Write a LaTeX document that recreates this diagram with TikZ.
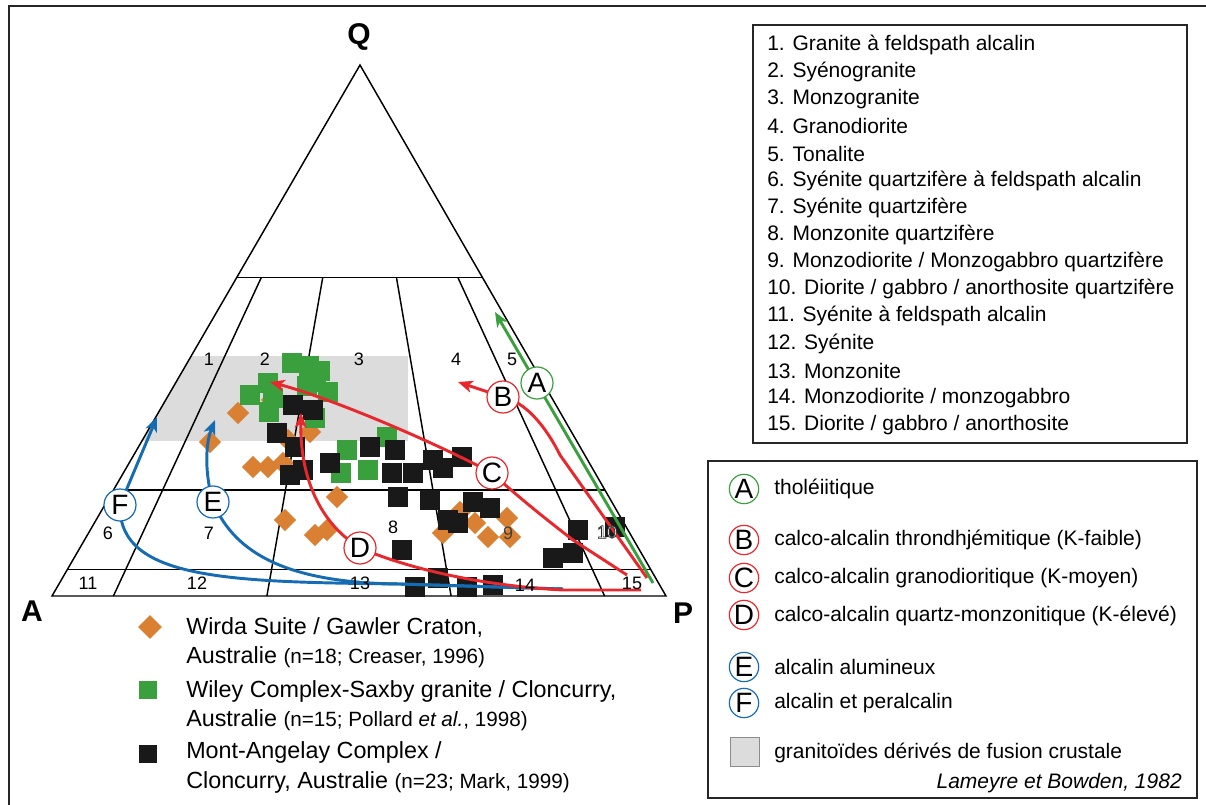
\documentclass[tikz,border=0pt]{standalone}
\usepackage{fontspec}
\setmainfont{Liberation Sans}
\usepackage{tikz}
\usetikzlibrary{calc,arrows.meta,shapes.geometric}

\definecolor{ocre}{RGB}{218,128,50}
\definecolor{vert}{RGB}{58,160,62}
\definecolor{noir}{RGB}{25,25,25}
\definecolor{rouge}{RGB}{232,40,44}
\definecolor{bleu}{RGB}{22,108,178}
\definecolor{gris}{RGB}{220,220,220}
\newcommand{\smallleg}{\fontsize{15.5}{17}\selectfont}
\newcommand{\outlined}[1]{{\color{white}\special{pdf:literal direct 2 Tr 0.5 w 0.15 G 1 g}#1\special{pdf:literal direct 0 Tr}}}

\begin{document}
\begin{tikzpicture}[x=0.75pt,y=-0.75pt,
zone/.style={line width=1.1pt},
num/.style={inner sep=0pt,font=\fontsize{13.5}{14}\selectfont},
apex/.style={inner sep=0pt,font=\fontsize{22.5}{23}\selectfont\bfseries},
wirda/.style={diamond,fill=ocre,inner sep=0pt,minimum size=17pt},
wiley/.style={fill=vert,inner sep=0pt,minimum size=14.5pt},
angelay/.style={fill=noir,inner sep=0pt,minimum size=14.5pt},
serie/.style={circle,draw=#1,fill=white,line width=0.9pt,inner sep=0pt,
  minimum size=24pt,font=\fontsize{21}{21}\selectfont},
trend/.style={draw=#1,line width=2.2pt,
  -{Stealth[length=11pt,width=9pt,inset=3pt]}},
leg/.style={anchor=west,inner sep=0pt,font=\fontsize{15.75}{18}\selectfont},
bigleg/.style={anchor=west,inner sep=0pt,font=\fontsize{17.5}{19}\selectfont},
cadre/.style={draw=black!85,line width=1.4pt}]
\useasboundingbox (0,0) rectangle (1206,805);

% outer frame
\draw[draw=black!85,line width=1.9pt] (9,805) -- (9,6) -- (1206,6);

% QAP triangle
\coordinate (Q) at (360,65);
\coordinate (A) at (52,596);
\coordinate (P) at (666,596);
\coordinate (g60) at ($(A)!0.6!(Q)$);
\coordinate (d60) at ($(P)!0.6!(Q)$);
\coordinate (g20) at ($(A)!0.2!(Q)$);
\coordinate (d20) at ($(P)!0.2!(Q)$);
\coordinate (g5) at ($(A)!0.05!(Q)$);
\coordinate (d5) at ($(P)!0.05!(Q)$);

\begin{scope}
\clip (Q) -- (A) -- (P) -- cycle;
\fill[gris] (100,356) rectangle (408,441);
\end{scope}

\draw[zone] (Q) -- (A) -- (P) -- cycle;
\draw[zone] (g60) -- (d60) (g20) -- (d20) (g5) -- (d5);
\foreach \r in {0.1,0.35,0.65,0.9}
  \draw[zone] ($(g60)!\r!(d60)$) -- ($(A)!\r!(P)$);

\node (vq) at (359,37) [apex] {Q};
\node (va) at (32,611) [apex] {A};
\node (vp) at (683,613) [apex] {P};

% data
\foreach \x/\y [count=\i] in {238/413,272/400,310/432,210/442,253/467,268/467,
  283/463,337/497,285/520,315/535,327/530,460/512,475/523,443/533,507/518,
  488/537,510/537,288/440}
  \node (w\i) at (\x,\y) [wirda] {};
\foreach \x/\y [count=\i] in {292/363,309/366,320/371,307/386,268/383,250/395,
  316/382,328/392,273/398,269/412,315/418,387/437,347/450,368/470,341/473}
  \node (s\i) at (\x,\y) [wiley] {};
\foreach \x/\y [count=\i] in {293/405,313/410,277/433,295/447,290/475,303/470,
  330/463,370/447,395/450,433/460,443/468,462/457,392/473,413/473,398/497,
  430/500,473/502,490/508,448/520,458/523,402/550,578/530,615/527,573/553,
  553/558,415/587,438/578,467/587,493/585}
  \node (m\i) at (\x,\y) [angelay] {};

% trends
\coordinate (sA) at (653,583);
\coordinate (cA) at (537,383);
\coordinate (tA) at (495,312);
\coordinate (sB) at (647,578);
\coordinate (cB) at (503,397);
\coordinate (tB) at (458,382);
\coordinate (sC) at (627,575);
\coordinate (cC) at (492,473);
\coordinate (tC) at (270,382);
\coordinate (sD) at (641,590);
\coordinate (cD) at (360,548);
\coordinate (tD) at (301,413);
\coordinate (sE) at (563,589);
\coordinate (bE) at (400,584);
\coordinate (cE) at (213,502);
\coordinate (tE) at (215,420);
\coordinate (cF) at (120,505);
\coordinate (tF) at (157,417);

\draw[trend=bleu] (sE) -- (bE) .. controls (290,583) and (235,555) .. (cE)
  .. controls (205,475) and (205,445) .. (tE);
\draw[trend=bleu] (sE) -- (bE) .. controls (230,582) and (118,580) .. (cF) -- (tF);
\draw[trend=rouge] (sD) -- (563,590) .. controls (470,585) and (400,565) .. (cD)
  .. controls (315,520) and (300,470) .. (tD);
\draw[trend=rouge] (sC) -- (573,540) .. controls (530,507) and (505,485) .. (cC)
  .. controls (430,440) and (330,398) .. (tC);
\draw[trend=rouge] (sB) -- (560,455) .. controls (545,425) and (525,402) .. (cB) -- (tB);
\draw[trend=vert] (sA) -- (tA);

\node (kA) at (cA) [serie=vert] {A};
\node (kB) at (cB) [serie=rouge] {B};
\node (kC) at (cC) [serie=rouge] {C};
\node (kD) at (cD) [serie=rouge] {D};
\node (kE) at (cE) [serie=bleu] {E};
\node (kF) at (cF) [serie=bleu] {F};

% field numbers
\node (n1) at (209,359) [num] {1};
\node (n2) at (265,359) [num] {2};
\node (n3) at (359,359) [num] {3};
\node (n4) at (456,359) [num] {4};
\node (n5) at (512,359) [num] {5};
\node (n6) at (108,533) [num] {6};
\node (n7) at (209,533) [num] {7};
\node (n8) at (393,527) [num] {8};
\node (n9) at (508,533) [num,black!75] {9};
\node (n10) at (607,532) [num] {\outlined{10}};
\node (n11) at (88,583) [num] {11};
\node (n12) at (197,583) [num] {12};
\node (n13) at (360,583) [num] {13};
\node (n14) at (525,585) [num] {14};
\node (n15) at (632,583) [num] {15};

% legend of the data
\node (lw) at (150,627) [wirda,minimum size=18pt] {};
\node (tw1) at (186,628) [bigleg] {Wirda Suite / Gawler Craton,};
\node (tw2) at (186,657) [bigleg] {Australie {\smallleg(n=18; Creaser, 1996)}};
\node (ls) at (148,690) [wiley,minimum size=13.5pt] {};
\node (ts1) at (186,691) [bigleg] {Wiley Complex-Saxby granite / Cloncurry,};
\node (ts2) at (186,720) [bigleg] {Australie {\smallleg(n=15; Pollard \textit{et al.}, 1998)}};
\node (lm) at (148,754) [angelay,minimum size=13.5pt] {};
\node (tm1) at (186,752) [bigleg] {Mont-Angelay Complex /};
\node (tm2) at (186,782) [bigleg] {Cloncurry, Australie {\smallleg(n=23; Mark, 1999)}};

% list of fields
\draw[cadre] (753,25) rectangle (1187,443);
\foreach \t [count=\i] in {Granite à feldspath alcalin,Syénogranite,Monzogranite,
  Granodiorite,Tonalite,Syénite quartzifère à feldspath alcalin,
  Syénite quartzifère,Monzonite quartzifère,
  Monzodiorite / Monzogabbro quartzifère,
  Diorite / gabbro / anorthosite quartzifère,Syénite à feldspath alcalin,
  Syénite,Monzonite,Monzodiorite / monzogabbro,Diorite / gabbro / anorthosite}
  \node (f\i) at (767,{45+27.14*(\i-1)}) [leg] {\i. \t};

% legend of the trends
\draw[cadre] (708,461) rectangle (1197,798);
\node (lA) at (744,489) [serie=vert,minimum size=22pt] {A};
\node (lB) at (744,540) [serie=rouge,minimum size=22pt] {B};
\node (lC) at (744,578) [serie=rouge,minimum size=22pt] {C};
\node (lD) at (744,615) [serie=rouge,minimum size=22pt] {D};
\node (lE) at (744,667) [serie=bleu,minimum size=22pt] {E};
\node (lF) at (744,703) [serie=bleu,minimum size=22pt] {F};
\node (lG) at (745,752) [fill=gris,draw=black!45,line width=0.8pt,inner sep=0pt,minimum size=22pt] {};
\node (tA) at (774,489) [leg] {tholéiitique};
\node (tB) at (774,540) [leg] {calco-alcalin throndhjémitique (K-faible)};
\node (tC) at (774,578) [leg] {calco-alcalin granodioritique (K-moyen)};
\node (tD) at (774,616) [leg] {calco-alcalin quartz-monzonitique (K-élevé)};
\node (tE) at (774,667) [leg] {alcalin alumineux};
\node (tF) at (774,703) [leg] {alcalin et peralcalin};
\node (tG) at (774,753) [leg] {granitoïdes dérivés de fusion crustale};
\node (src) at (1182,783) [leg,anchor=east,font=\fontsize{15.75}{18}\selectfont\itshape] {Lameyre et Bowden, 1982};
\end{tikzpicture}
\end{document}
